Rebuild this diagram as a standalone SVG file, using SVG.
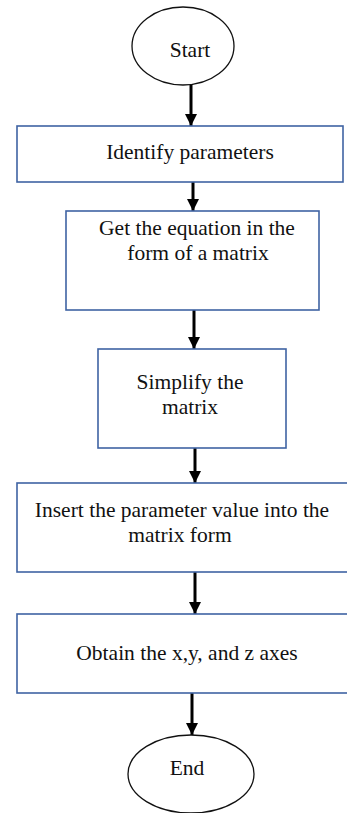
<svg xmlns="http://www.w3.org/2000/svg" width="347" height="813" viewBox="0 0 347 813">
<style>
.box{fill:#ffffff;stroke:#3f63a3;stroke-width:1.6}
.term{fill:#ffffff;stroke:#111111;stroke-width:1.3}
.lbl{font-family:"Liberation Serif","Times New Roman",serif;font-size:21.5px;fill:#111111;text-anchor:middle}
.conn{stroke:#000000;stroke-width:3;fill:none;marker-end:url(#ah)}
</style>
<defs>
<marker id="ah" markerWidth="4" markerHeight="4" refX="4" refY="2" orient="auto" markerUnits="strokeWidth">
<path d="M0,0 L4,2 L0,4 Z" fill="#000000"/>
</marker>
</defs>
<rect width="347" height="813" fill="#ffffff"/>
<g id="connectors">
<line class="conn" x1="191" y1="85" x2="191" y2="126"/>
<line class="conn" x1="193" y1="182" x2="193" y2="211"/>
<line class="conn" x1="194" y1="310" x2="194" y2="349"/>
<line class="conn" x1="195" y1="448" x2="195" y2="483"/>
<line class="conn" x1="195" y1="572" x2="195" y2="614"/>
<line class="conn" x1="192" y1="693" x2="192" y2="735"/>
</g>
<g id="start">
<ellipse class="term" cx="183" cy="46" rx="51" ry="39"/>
<text class="lbl" x="190" y="57">Start</text>
</g>
<g id="identify">
<rect class="box" x="17" y="126" width="326" height="56"/>
<text class="lbl" x="190" y="159">Identify parameters</text>
</g>
<g id="equation">
<rect class="box" x="66" y="211" width="253" height="99"/>
<text class="lbl" x="197" y="235">Get the equation in the</text>
<text class="lbl" x="198" y="260">form of a matrix</text>
</g>
<g id="simplify">
<rect class="box" x="98" y="349" width="188" height="99"/>
<text class="lbl" x="190" y="389">Simplify the</text>
<text class="lbl" x="190" y="414">matrix</text>
</g>
<g id="insert">
<rect class="box" x="17" y="483" width="340" height="89"/>
<text class="lbl" x="182" y="517">Insert the parameter value into the</text>
<text class="lbl" x="180" y="542">matrix form</text>
</g>
<g id="obtain">
<rect class="box" x="17" y="614" width="340" height="79"/>
<text class="lbl" x="187" y="660">Obtain the x,y, and z axes</text>
</g>
<g id="end">
<ellipse class="term" cx="191" cy="774" rx="63" ry="39"/>
<text class="lbl" x="187" y="775">End</text>
</g>
</svg>
